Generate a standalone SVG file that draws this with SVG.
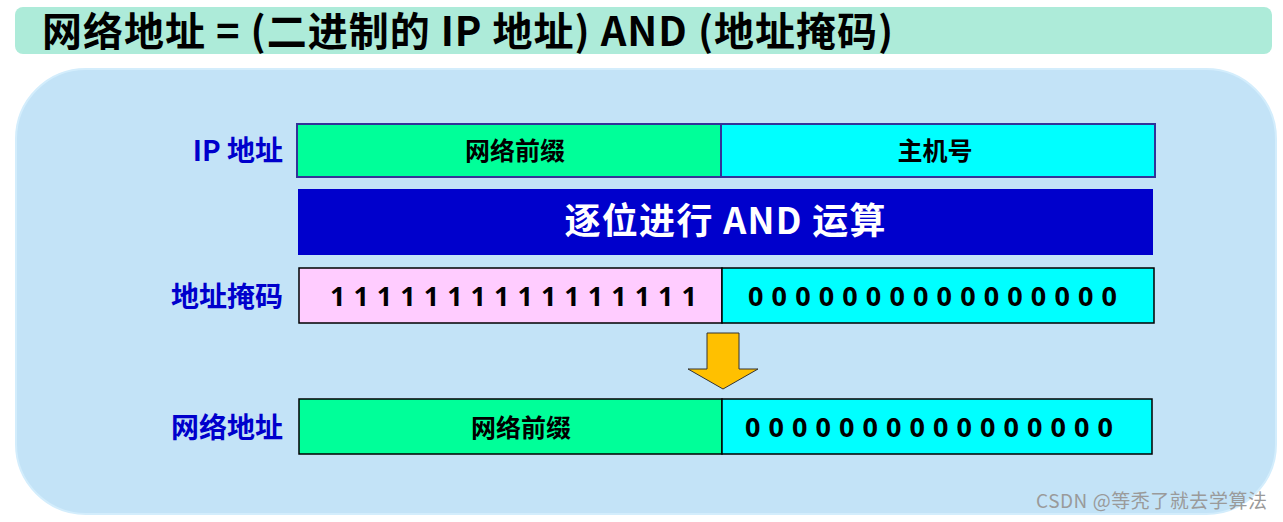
<svg xmlns="http://www.w3.org/2000/svg" width="1283" height="522" viewBox="0 0 1283 522">
<style>
.cjk{font-family:"Noto Sans CJK SC","Noto Sans",sans-serif;font-weight:700}
.lbl{font-size:28px;fill:#0000CC;text-anchor:end}
.cell{font-size:25px;fill:#000;text-anchor:middle}
.bits{font-family:"Noto Sans","Noto Sans CJK SC",sans-serif;font-weight:700;font-size:27px;fill:#000}
.edge1{stroke:#333399;stroke-width:2}
.edge2{stroke:#000;stroke-width:1.5}
</style>
<rect width="1283" height="522" fill="#ffffff"/>
<g id="title">
<rect x="15" y="7" width="1257" height="47" rx="8" fill="#ADEBD9"/>
<text class="cjk" x="42" y="46" font-size="40" fill="#000" textLength="851" lengthAdjust="spacing">网络地址 = (二进制的 IP 地址) AND (地址掩码)</text>
</g>
<g id="panel">
<rect x="16" y="69" width="1260" height="445" rx="70" fill="#C3E3F7" stroke="#D3EDFC" stroke-width="2"/>
</g>
<g id="ip-row">
<text class="cjk lbl" x="283" y="161">IP 地址</text>
<rect x="297" y="124" width="424" height="53" fill="#00FF99" class="edge1"/>
<rect x="721" y="124" width="434" height="53" fill="#00FFFF" class="edge1"/>
<text class="cjk cell" x="515" y="160">网络前缀</text>
<text class="cjk cell" x="935" y="160">主机号</text>
</g>
<g id="and-band">
<rect x="298" y="189" width="855" height="66" fill="#0000CC"/>
<text class="cjk" x="725" y="234" font-size="36" fill="#ffffff" text-anchor="middle" textLength="321" lengthAdjust="spacing">逐位进行 AND 运算</text>
</g>
<g id="mask-row">
<text class="cjk lbl" x="283" y="307">地址掩码</text>
<rect x="299" y="268" width="423" height="55" fill="#FFCCFF" class="edge2"/>
<rect x="722" y="268" width="432" height="55" fill="#00FFFF" class="edge2"/>
<text class="bits" x="330" y="306" textLength="367" lengthAdjust="spacing">1 1 1 1 1 1 1 1 1 1 1 1 1 1 1 1</text>
<text class="bits" x="748" y="306" textLength="369" lengthAdjust="spacing">0 0 0 0 0 0 0 0 0 0 0 0 0 0 0 0</text>
</g>
<g id="connectors">
<polygon points="707,333 739,333 739,369 758,369 723,389 688,369 707,369" fill="#FFC000" stroke="#333333" stroke-width="1"/>
</g>
<g id="net-row">
<text class="cjk lbl" x="283" y="438">网络地址</text>
<rect x="299" y="399" width="423" height="55" fill="#00FF99" class="edge2"/>
<rect x="722" y="399" width="430" height="55" fill="#00FFFF" class="edge2"/>
<text class="cjk cell" x="521" y="437">网络前缀</text>
<text class="bits" x="745" y="437" textLength="368" lengthAdjust="spacing">0 0 0 0 0 0 0 0 0 0 0 0 0 0 0 0</text>
</g>
<g id="watermark">
<text x="1267" y="508" font-family="Noto Sans CJK SC, sans-serif" font-size="19" fill="#9a9a9a" text-anchor="end" textLength="231" lengthAdjust="spacing">CSDN @等秃了就去学算法</text>
</g>
</svg>
